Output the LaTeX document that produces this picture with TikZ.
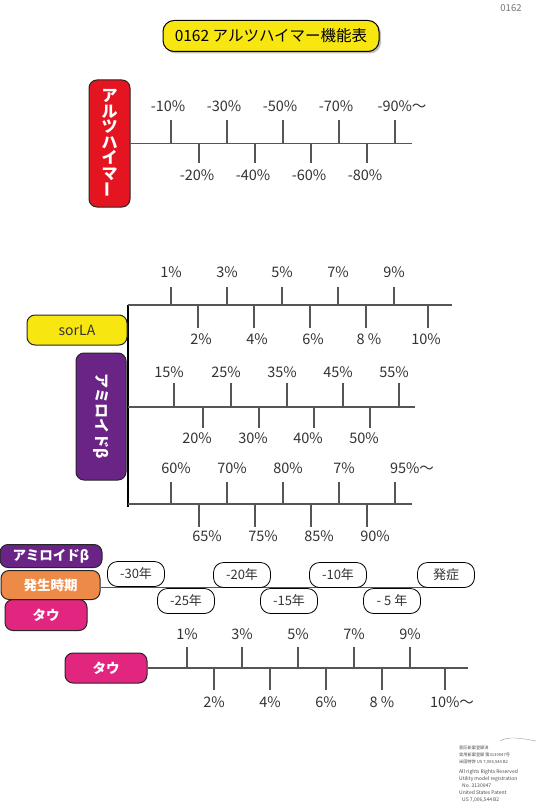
\documentclass[tikz,border=0pt]{standalone}
\usepackage{fontspec}
\setmainfont{Noto Sans CJK JP}
\usepackage{tikz}
\usepackage{xcolor}
\usetikzlibrary{shadows}
\definecolor{TitleYellow}{RGB}{248,230,16}
\definecolor{AlzRed}{RGB}{228,20,32}
\definecolor{AmyPurple}{RGB}{106,36,134}
\definecolor{OnsetOrange}{RGB}{238,138,72}
\definecolor{TauPink}{RGB}{226,38,128}
\definecolor{AxisGray}{RGB}{85,85,85}
\tikzset{
  box/.style={draw=black!85, line width=1pt, rounded corners=8pt, text=white,
    font=\bfseries\fontsize{13.5}{15}\selectfont, inner sep=0pt},
  axis/.style={draw=AxisGray, line width=1.3pt},
  tick/.style={draw=AxisGray, line width=1.2pt},
  lbl/.style={font=\fontsize{14.5}{14.5}\selectfont, text=black!80, inner sep=0pt},
  nenbox/.style={draw=black, line width=0.8pt, fill=white, rounded corners=10pt,
    minimum width=57pt, minimum height=25pt, inner sep=0pt,
    font=\fontsize{13}{13}\selectfont, text=black!80},
  tiny/.style={font=\fontsize{4.2}{4.5}\selectfont, text=black!70, inner sep=0pt, anchor=west}
}

\begin{document}
\begin{tikzpicture}[x=1pt, y=-1pt]
  \useasboundingbox[fill=white] (0,0) rectangle (538,805);
  % 見出し
  \node[font=\fontsize{9.5}{10}\selectfont, text=black!55] (num) at (511,8) {0162};
  \node[draw=black, line width=1pt, fill=TitleYellow, rounded corners=11pt,
    minimum width=216pt, minimum height=31pt, drop shadow={shadow xshift=2pt, shadow yshift=-2pt},
    font=\fontsize{15.5}{16}\selectfont] (title) at (271,36) {0162 アルツハイマー機能表};

  % アルツハイマー
  \node[box, fill=AlzRed, minimum width=41pt, minimum height=127pt, align=center,
    font=\bfseries\fontsize{16}{15.5}\selectfont] (alz) at (109.5,143.5)
    {ア\\ル\\ツ\\ハ\\イ\\マ\\\rotatebox{90}{ー}};
  \coordinate (alzend) at (412,143.5);
  \draw[axis] (alz.east) -- (alzend);
  \foreach \x/\t in {171/-10\%, 227/-30\%, 283/-50\%, 339/-70\%}{
    \draw[tick] (\x,120) -- (\x,143.5);
    \node[lbl] at (\x-3,106) {\t};
  }
  \draw[tick] (395,120) -- (395,143.5);
  \node[lbl] (m90) at (402,106) {-90\%〜};
  \foreach \x/\t in {199/-20\%, 255/-40\%, 311/-60\%, 367/-80\%}{
    \draw[tick] (\x,143.5) -- (\x,163);
    \node[lbl] at (\x-2,175) {\t};
  }

  % sorLA / アミロイドβ
  \coordinate (bartop) at (128,305);
  \coordinate (barbot) at (128,507);
  \draw[black, line width=2.8pt] (bartop) -- (barbot);
  \node[box, fill=TitleYellow, text=black!80, minimum width=100pt, minimum height=30pt,
    font=\fontsize{14}{14}\selectfont] (sorla) at (77,330) {sorLA};
  \node[box, fill=AmyPurple, minimum width=50pt, minimum height=127pt] (amy) at (101,416.5) {};
  \node[text=white, rotate=-90, font=\bfseries\fontsize{15}{15}\selectfont] (amytxt) at (amy.center) {アミロイドβ};

  % 1%〜10%
  \coordinate (s1end) at (452,305);
  \draw[axis] (bartop) -- (s1end);
  \foreach \x/\t in {171/1\%, 227/3\%, 282/5\%, 338/7\%, 394/9\%}{
    \draw[tick] (\x,287) -- (\x,305);
    \node[lbl] at (\x,272) {\t};
  }
  \foreach \x/\t in {198/2\%, 254/4\%, 310/6\%, 366/8 \%}{
    \draw[tick] (\x,305) -- (\x,328);
    \node[lbl] at (\x+3,339) {\t};
  }
  \draw[tick] (428,305) -- (428,328);
  \node[lbl] (s10) at (426,339) {10\%};

  % 15%〜55%
  \coordinate (s2beg) at (128,407);
  \coordinate (s2end) at (415,407);
  \draw[axis] (s2beg) -- (s2end);
  \foreach \x/\t in {174/15\%, 231/25\%, 287/35\%, 343/45\%, 399/55\%}{
    \draw[tick] (\x,383) -- (\x,407);
    \node[lbl] at (\x-5,372) {\t};
  }
  \foreach \x/\t in {203/20\%, 259/30\%, 314/40\%, 370/50\%}{
    \draw[tick] (\x,407) -- (\x,428);
    \node[lbl] at (\x-6,438) {\t};
  }

  % 60%〜95%
  \coordinate (s3beg) at (128,504);
  \coordinate (s3end) at (412,504);
  \draw[axis] (s3beg) -- (s3end);
  \foreach \x/\t in {171/60\%, 227/70\%, 283/80\%, 339/7\%}{
    \draw[tick] (\x,482) -- (\x,504);
    \node[lbl] at (\x+5,468) {\t};
  }
  \draw[tick] (395,482) -- (395,504);
  \node[lbl] (p95) at (412,468) {95\%〜};
  \foreach \x/\t in {199/65\%, 255/75\%, 311/85\%, 367/90\%}{
    \draw[tick] (\x,504) -- (\x,527);
    \node[lbl] at (\x+8,536) {\t};
  }

  % 発生時期
  \node[box, fill=AmyPurple, minimum width=102pt, minimum height=23pt] (amy2) at (51,556) {アミロイドβ};
  \node[box, fill=TauPink, minimum width=82pt, minimum height=31pt] (tau1) at (46,615) {タウ};
  \node[box, fill=OnsetOrange, minimum width=99pt, minimum height=29pt] (onset) at (50.5,585) {発生時期};
  \coordinate (onsetend) at (447,587);
  \draw[axis, line width=1pt] (onset.east |- onsetend) -- (onsetend);
  \node[nenbox] (y30) at (136,574) {-30年};
  \node[nenbox] (y25) at (186,601) {-25年};
  \node[nenbox] (y20) at (242,575) {-20年};
  \node[nenbox] (y15) at (289,601) {-15年};
  \node[nenbox] (y10) at (338,575) {-10年};
  \node[nenbox] (y5) at (392,601) {- 5 年};
  \node[nenbox] (onsetday) at (446,575) {発症};

  % タウ
  \node[box, fill=TauPink, minimum width=82pt, minimum height=30pt] (tau2) at (106,668) {タウ};
  \coordinate (tauend) at (468,668);
  \draw[axis] (tau2.east) -- (tauend);
  \foreach \x/\t in {187/1\%, 242/3\%, 298/5\%, 354/7\%, 410/9\%}{
    \draw[tick] (\x,647) -- (\x,668);
    \node[lbl] at (\x,634) {\t};
  }
  \foreach \x/\t in {214/2\%, 270/4\%, 326/6\%, 382/8 \%}{
    \draw[tick] (\x,668) -- (\x,690);
    \node[lbl] at (\x,702) {\t};
  }
  \draw[tick] (445,668) -- (445,690);
  \node[lbl] (t10) at (452,702) {10\%〜};

  % 権利表示
  \draw[black!40, line width=0.4pt] (500,741) .. controls (508,736) and (520,738) .. (536,741);
  \node[tiny] (r1) at (459,748) {意匠新案登録済};
  \node[tiny] (r2) at (459,755) {実用新案登録 第3130047号};
  \node[tiny] (r3) at (459,762) {米国特許 US 7,006,544 B2};
  \node[tiny, font=\fontsize{5}{5.5}\selectfont] (r4) at (459,772) {All rights Rights Reserved};
  \node[tiny, font=\fontsize{5}{5.5}\selectfont] (r5) at (459,779) {Utility model registration};
  \node[tiny, font=\fontsize{5}{5.5}\selectfont] (r6) at (462,786) {No. 3130047};
  \node[tiny, font=\fontsize{5}{5.5}\selectfont] (r7) at (459,793) {United States Patent};
  \node[tiny, font=\fontsize{5}{5.5}\selectfont] (r8) at (462,800) {US 7,006,544 B2};
\end{tikzpicture}
\end{document}
